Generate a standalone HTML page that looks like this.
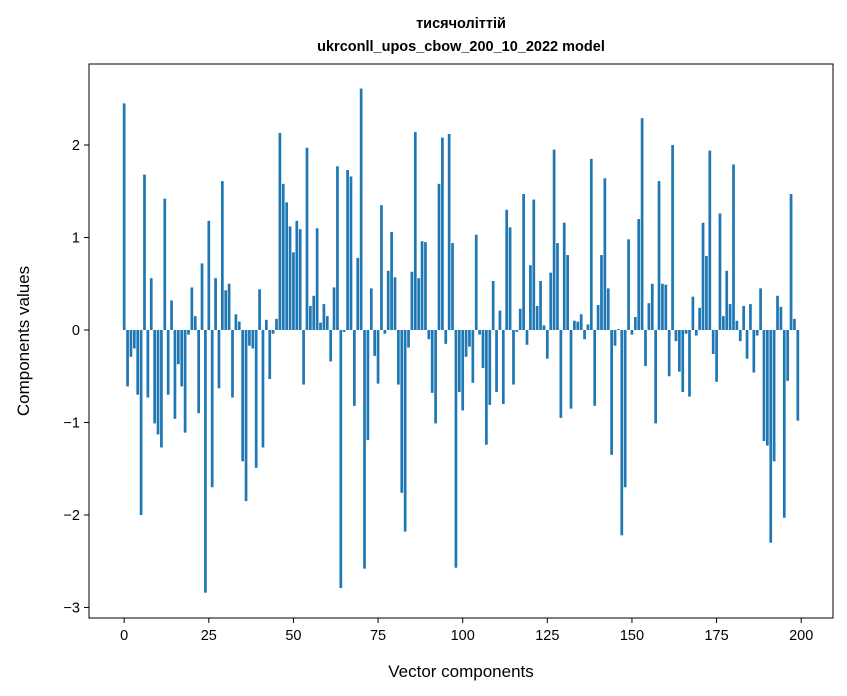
<!DOCTYPE html>
<html><head><meta charset="utf-8"><style>
body{margin:0;background:#fff;}
svg{display:block;font-family:"Liberation Sans","DejaVu Sans",sans-serif;}
</style></head><body>
<svg id="chart" width="847" height="696" viewBox="0 0 847 696">
<text x="461" y="28" text-anchor="middle" font-size="14.5" font-weight="bold">тисячоліттій</text>
<text x="461" y="51" text-anchor="middle" font-size="14.5" font-weight="bold">ukrconll_upos_cbow_200_10_2022 model</text>
<g id="bars"></g>
<g id="axes"></g>
<rect x="89" y="64" width="744" height="554" fill="none" stroke="#000" stroke-width="1"/>
<text x="461" y="677" text-anchor="middle" font-size="17">Vector components</text>
<text transform="translate(29,341) rotate(-90)" text-anchor="middle" font-size="17">Components values</text>
</svg>
<script>
const values = [2.45,-0.61,-0.29,-0.2,-0.7,-2.0,1.68,-0.73,0.56,-1.01,
-1.13,-1.27,1.42,-0.7,0.32,-0.96,-0.37,-0.61,-1.11,-0.05,
0.46,0.15,-0.9,0.72,-2.84,1.18,-1.7,0.56,-0.63,1.61,
0.43,0.5,-0.73,0.17,0.09,-1.42,-1.85,-0.17,-0.2,-1.49,
0.44,-1.27,0.11,-0.53,-0.04,0.12,2.13,1.58,1.38,1.12,
0.84,1.18,1.09,-0.59,1.97,0.26,0.37,1.1,0.08,0.28,
0.15,-0.34,0.46,1.77,-2.79,-0.02,1.73,1.66,-0.82,0.78,
2.61,-2.58,-1.19,0.45,-0.28,-0.58,1.35,-0.04,0.64,1.06,
0.57,-0.59,-1.76,-2.18,-0.19,0.63,2.14,0.56,0.96,0.95,
-0.1,-0.68,-1.01,1.58,2.08,-0.15,2.12,0.94,-2.57,-0.67,
-0.87,-0.29,-0.18,-0.57,1.03,-0.05,-0.41,-1.24,-0.81,0.53,
-0.67,0.21,-0.8,1.3,1.11,-0.59,-0.02,0.23,1.47,-0.16,
0.7,1.41,0.26,0.53,0.05,-0.31,0.62,1.95,0.94,-0.95,
1.16,0.81,-0.85,0.1,0.09,0.17,-0.1,0.06,1.85,-0.82,
0.27,0.81,1.64,0.45,-1.35,-0.17,0.01,-2.22,-1.7,0.98,
-0.05,0.14,1.2,2.29,-0.39,0.29,0.5,-1.01,1.61,0.5,
0.49,-0.5,2.0,-0.12,-0.45,-0.67,-0.04,-0.72,0.36,-0.06,
0.24,1.16,0.8,1.94,-0.26,-0.56,1.26,0.15,0.64,0.28,
1.79,0.1,-0.12,0.26,-0.31,0.28,-0.46,-0.06,0.45,-1.2,
-1.25,-2.3,-1.42,0.37,0.25,-2.03,-0.55,1.47,0.12,-0.98];
const xTicks = [0,25,50,75,100,125,150,175,200];
const yTicks = [-3,-2,-1,0,1,2];
const yTickLabels = ["\u22123","\u22122","\u22121","0","1","2"];

const L=89,R=833,T=64,B=618, xmin=-10.39,xmax=209.39,ymin=-3.114,ymax=2.876;
const xs=v=>L+(v-xmin)/(xmax-xmin)*(R-L);
const ys=v=>B-(v-ymin)/(ymax-ymin)*(B-T);
const NS="http://www.w3.org/2000/svg";
const bars=document.getElementById('bars'), axes=document.getElementById('axes');
values.forEach((v,i)=>{
  const r=document.createElementNS(NS,'rect');
  const x0=xs(i-0.4), x1=xs(i+0.4), y0=ys(Math.max(v,0)), y1=ys(Math.min(v,0));
  r.setAttribute('x',x0); r.setAttribute('width',x1-x0);
  r.setAttribute('y',y0); r.setAttribute('height',Math.max(y1-y0,0.3));
  r.setAttribute('fill','#1f77b4');
  
  
  bars.appendChild(r);
});
xTicks.forEach(t=>{
  const x=xs(t);
  const l=document.createElementNS(NS,'line');
  l.setAttribute('x1',x);l.setAttribute('x2',x);l.setAttribute('y1',B);l.setAttribute('y2',B+5);l.setAttribute('stroke','#000');
  
  
  axes.appendChild(l);
  const tx=document.createElementNS(NS,'text');
  tx.setAttribute('x',x);tx.setAttribute('y',B+22);tx.setAttribute('text-anchor','middle');tx.setAttribute('font-size','14.5');
  tx.textContent=String(t);
  
  
  axes.appendChild(tx);
});
yTicks.forEach((t,i)=>{
  const y=ys(t);
  const l=document.createElementNS(NS,'line');
  l.setAttribute('x1',L-5);l.setAttribute('x2',L);l.setAttribute('y1',y);l.setAttribute('y2',y);l.setAttribute('stroke','#000');
  
  
  axes.appendChild(l);
  const tx=document.createElementNS(NS,'text');
  tx.setAttribute('x',L-9);tx.setAttribute('y',y+5);tx.setAttribute('text-anchor','end');tx.setAttribute('font-size','14.5');
  tx.textContent=yTickLabels[i];
  
  
  axes.appendChild(tx);
});
</script>
</body></html>
